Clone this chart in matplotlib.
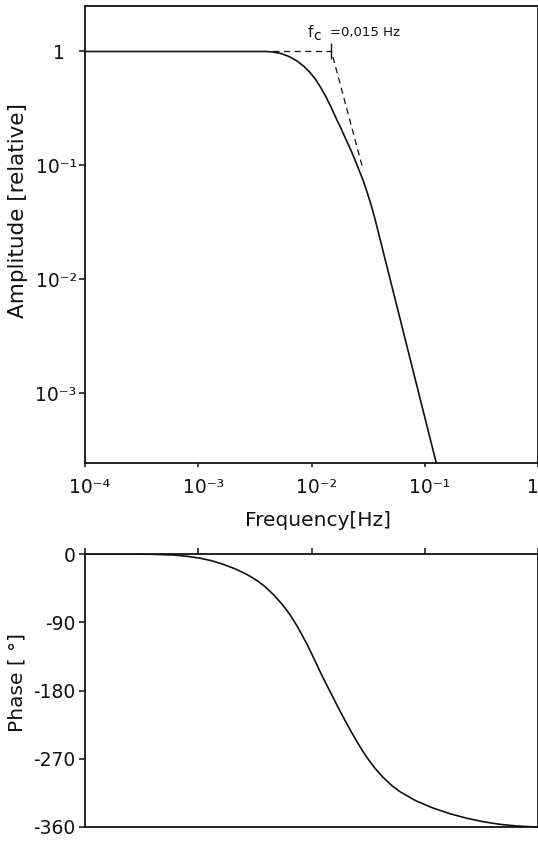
import matplotlib
matplotlib.use("Agg")
import matplotlib.pyplot as plt
from matplotlib.transforms import ScaledTranslation

plt.rcParams['font.family'] = ['DejaVu Sans']

# amplitude response
amp_freq = [1e-4, 3.886e-3, 4.571e-3, 5.378e-3, 6.327e-3, 7.447e-3, 8.589e-3,
            9.701e-3, 1.0958e-2, 1.2132e-2, 1.3428e-2, 1.4869e-2, 1.6453e-2,
            1.8222e-2, 2.0165e-2, 2.2328e-2, 2.4215e-2, 2.6262e-2, 2.8486e-2,
            3.0914e-2, 3.3520e-2, 3.6363e-2, 0.12609, 0.13656]
amp_val = [1.0, 1.0, 0.990, 0.960, 0.904, 0.825, 0.739,
           0.654, 0.562, 0.478, 0.399, 0.326, 0.261,
           0.2112, 0.1691, 0.1354, 0.1117, 0.0913, 0.0746,
           0.0586, 0.0455, 0.0339, 2.481e-4, 1.797e-4]

# straight-line asymptote and corner frequency
fc = 0.015
asym_freq = [0.0046, fc, 0.0279]
asym_val = [1.0, 1.0, 0.1]

# phase response
phase_freq = [1e-4, 3.750e-4, 5.984e-4, 7.955e-4, 1.036e-3, 1.322e-3, 1.654e-3,
              2.111e-3, 2.694e-3, 3.302e-3, 3.886e-3, 4.571e-3, 5.488e-3,
              6.459e-3, 7.600e-3, 9.126e-3, 1.0522e-2, 1.1888e-2, 1.3703e-2,
              1.5480e-2, 1.7140e-2, 1.8967e-2, 2.1878e-2, 2.5220e-2, 2.7918e-2,
              3.0914e-2, 3.6363e-2, 4.2779e-2, 5.1370e-2, 6.0450e-2, 8.3717e-2,
              0.11823, 0.16711, 0.23605, 0.32674, 0.46170, 0.65252, 0.90324, 1.0]
phase_deg = [0, -0.3, -1.3, -3.0, -5.5, -9.0, -13.5,
             -19.5, -27.0, -35.0, -43.0, -53.0, -66.0,
             -80.0, -97.0, -119.0, -138.0, -155.0, -173.5,
             -189.0, -202.0, -214.5, -231.5, -247.5, -258.5,
             -268.5, -282.5, -294.5, -305.5, -313.5, -325.5,
             -335.0, -342.5, -348.5, -353.0, -356.5, -358.7, -359.8, -360]

amp_ticks = [1, 1e-1, 1e-2, 1e-3]
amp_labels = ["1", "10\u207b\u00b9", "10\u207b\u00b2", "10\u207b\u00b3"]
freq_ticks = [1e-4, 1e-3, 1e-2, 1e-1, 1e0]
freq_labels = ["10\u207b\u2074", "10\u207b\u00b3", "10\u207b\u00b2", "10\u207b\u00b9", "10\u2070"]
phase_ticks = [0, -90, -180, -270, -360]

W, H = 538, 841
fig = plt.figure(figsize=(W / 100, H / 100), dpi=100)
ink = "#111111"

def box(l, t, r, b):
    return [l / W, 1 - b / H, (r - l) / W, (b - t) / H]

ax1 = fig.add_axes(box(85, 6, 538, 463))
ax2 = fig.add_axes(box(85, 554, 538, 827))

for ax in (ax1, ax2):
    for s in ax.spines.values():
        s.set_linewidth(1.3)
        s.set_color(ink)
    ax.set_xscale("log")
    ax.set_xlim(1e-4, 1e0)
    ax.minorticks_off()
    ax.tick_params(colors=ink, labelsize=13.5, width=1.1, direction="out")

# amplitude panel
ax1.plot(amp_freq, amp_val, color=ink, lw=1.2)
ax1.plot(asym_freq, asym_val, color=ink, lw=0.9, dashes=(5, 3.5))
ax1.plot([fc], [1.0], marker="|", ms=12, mew=1.0, color=ink)
ax1.set_yscale("log")
ax1.set_ylim(10 ** -3.610, 10 ** 0.399)
ax1.minorticks_off()
ax1.set_yticks(amp_ticks)
ax1.set_yticklabels(amp_labels)
ax1.set_xticks(freq_ticks)
ax1.set_xticklabels(freq_labels)
ax1.tick_params(axis="y", length=4, pad=2)
ax1.tick_params(axis="x", length=3, pad=8)

# shift labels so that the "10" sits on the tick like in the scan
for lab in ax1.get_xticklabels():
    lab.set_transform(lab.get_transform() + ScaledTranslation(0.05, 0, fig.dpi_scale_trans))
first = ax1.get_yticklabels()[0]
first.set_transform(first.get_transform() + ScaledTranslation(-0.12, 0, fig.dpi_scale_trans))

# corner frequency note
ax1.annotate("f", xy=(fc, 1.0), xytext=(-24, 14),
             textcoords="offset pixels", ha="left", va="baseline",
             fontsize=11, color=ink)
ax1.annotate("c", xy=(fc, 1.0), xytext=(-18, 11),
             textcoords="offset pixels", ha="left", va="baseline",
             fontsize=10, color=ink)
ax1.annotate("=0,015 Hz", xy=(fc, 1.0), xytext=(-1, 15),
             textcoords="offset pixels", ha="left", va="baseline",
             fontsize=9.5, color=ink)

# phase panel
ax2.plot(phase_freq, phase_deg, color=ink, lw=1.2)
ax2.set_ylim(-360, 0)
ax2.set_yticks(phase_ticks)
ax2.set_yticklabels([str(v) for v in phase_ticks])
ax2.set_xticks(freq_ticks)
ax2.xaxis.tick_top()
ax2.tick_params(axis="x", labeltop=False, length=4)
ax2.tick_params(axis="y", length=4, pad=3)

fig.text(18 / W, 1 - 211 / H, "Amplitude [relative]", rotation=90,
         ha="center", va="center", fontsize=15.5, color=ink)
fig.text(318 / W, 1 - 520 / H, "Frequency[Hz]", ha="center", va="center",
         fontsize=14.5, color=ink)
fig.text(17 / W, 1 - 682 / H, "Phase [ \u00b0]", rotation=90,
         ha="center", va="center", fontsize=14.5, color=ink)

fig.savefig("out.png", dpi=100)
